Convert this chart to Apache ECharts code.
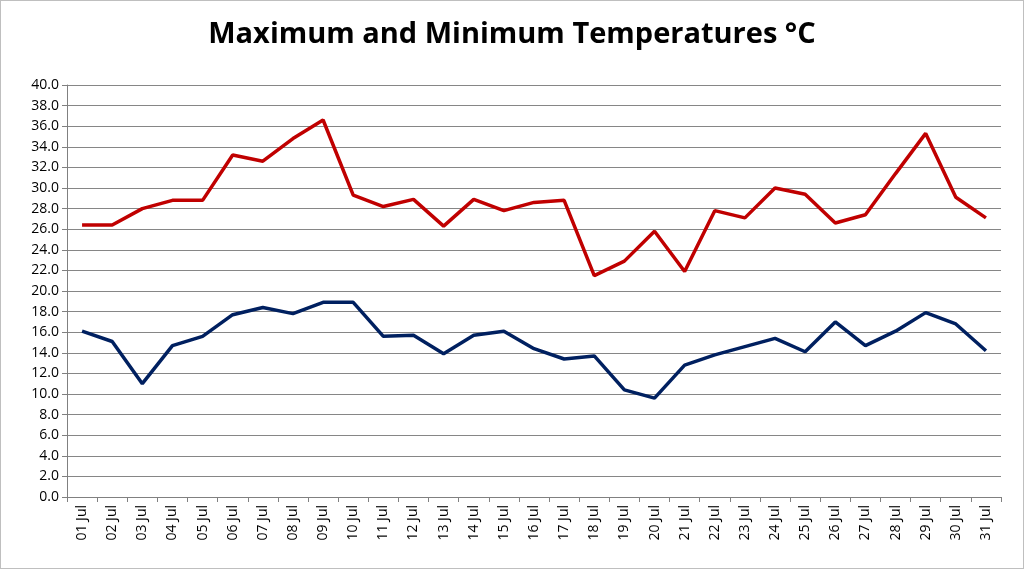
<!DOCTYPE html>
<html>
<head>
<meta charset="UTF-8">
<title>Temperatures</title>
<script src="https://cdn.jsdelivr.net/npm/echarts@6/dist/echarts.min.js"></script>
<style>
  html, body { margin: 0; padding: 0; background: #fff; }
  #main { width: 1022px; height: 567px; border: 1px solid #bfbfbf; }
</style>
</head>
<body>
<div id="main"></div>
<script>
  var days = [];
  for (var d = 1; d <= 31; d++) days.push((d < 10 ? '0' : '') + d + ' Jul');

  var maxTemps = [26.4, 26.4, 28.0, 28.8, 28.8, 33.2, 32.6, 34.8, 36.6, 29.3,
                  28.2, 28.9, 26.3, 28.9, 27.8, 28.6, 28.8, 21.5, 22.9, 25.8,
                  21.9, 27.8, 27.1, 30.0, 29.4, 26.6, 27.4, 31.4, 35.3, 29.1, 27.1];
  var minTemps = [16.1, 15.1, 11.0, 14.7, 15.6, 17.7, 18.4, 17.8, 18.9, 18.9,
                  15.6, 15.7, 13.9, 15.7, 16.1, 14.4, 13.4, 13.7, 10.4, 9.6,
                  12.8, 13.8, 14.6, 15.4, 14.1, 17.0, 14.7, 16.1, 17.9, 16.8, 14.2];

  var chart = echarts.init(document.getElementById('main'));
  chart.setOption({
    animation: false,
    title: {
      text: 'Maximum and Minimum Temperatures °C',
      left: 'center', top: 14,
      textStyle: { fontFamily: 'Open Sans', fontWeight: 'bold', fontSize: 29, color: '#000' }
    },
    grid: { left: 66, right: 22, top: 84, bottom: 71 },
    xAxis: {
      type: 'category',
      data: days,
      boundaryGap: true,
      axisLine: { lineStyle: { color: '#808080' } },
      axisTick: { show: true, lineStyle: { color: '#808080' } },
      axisLabel: { rotate: 90, color: '#000', fontSize: 14, fontFamily: 'Open Sans', margin: 8 }
    },
    yAxis: {
      type: 'value',
      min: 0, max: 40, interval: 2,
      axisLine: { show: true, lineStyle: { color: '#808080' } },
      axisTick: { show: true, lineStyle: { color: '#808080' } },
      splitLine: { lineStyle: { color: '#868686' } },
      axisLabel: { color: '#000', fontSize: 14, fontFamily: 'Open Sans',
                   formatter: function (v) { return v.toFixed(1); } }
    },
    series: [
      { name: 'Max', type: 'line', data: maxTemps, showSymbol: false,
        lineStyle: { color: '#c00000', width: 3.5 }, itemStyle: { color: '#c00000' } },
      { name: 'Min', type: 'line', data: minTemps, showSymbol: false,
        lineStyle: { color: '#002060', width: 3.5 }, itemStyle: { color: '#002060' } }
    ]
  });
</script>
</body>
</html>
